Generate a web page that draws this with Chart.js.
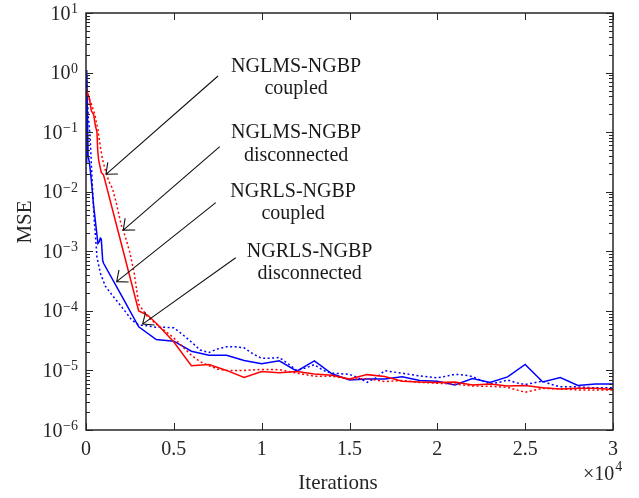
<!DOCTYPE html>
<html><head><meta charset="utf-8">
<script src="https://cdn.jsdelivr.net/npm/chart.js@4"></script>
<style>html,body{margin:0;padding:0;background:#fff}</style>
</head><body>
<canvas id="c" width="639" height="498"></canvas>
<script>
// ---- data ----
const xTickLabels = ['0','0.5','1','1.5','2','2.5','3'];
const yDecades = [-6,-5,-4,-3,-2,-1,0,1];

const nglmsCoupledX = [0,190,300,440,530,625,665,720,870,1000,2000,3000,3500,4000,5000,6000,7000,8000,9000,10000,11000,12000,13000,14000,15000,16000,17000,18000,19000,20000,21000,22000,23000,24000,25000,26000,27000,28000,29000,30000];
const nglmsCoupledY = [0.55,0.37,0.23,0.195,0.13,0.1,0.05,0.034,0.021,0.019,1.38e-3,1.0e-4,8.5e-5,6.2e-5,3.0e-5,1.2e-5,1.26e-5,1.0e-5,7.6e-6,9.6e-6,9.1e-6,9.6e-6,8.7e-6,8.3e-6,7.2e-6,8.5e-6,7.9e-6,6.6e-6,6.4e-6,6.3e-6,6.4e-6,5.7e-6,5.9e-6,5.5e-6,5.6e-6,5.1e-6,4.9e-6,5.0e-6,5.0e-6,4.8e-6];

const nglmsDiscX = [0,300,500,680,815,950,1100,1300,1500,1750,2000,2250,2500,2750,3000,3500,4000,4500,5000,5500,6000,6500,7000,7500,8000,9000,10000,11000,12000,13000,14000,15000,16000,17000,18000,19000,20000,21000,22000,23000,24000,25000,26000,27000,28000,29000,30000];
const nglmsDiscY = [0.5,0.3,0.2,0.11,0.057,0.034,0.023,0.015,0.0115,6.0e-3,2.8e-3,1.7e-3,9.5e-4,4.2e-4,1.3e-4,8e-5,6e-5,4.6e-5,3.5e-5,2.5e-5,1.8e-5,1.4e-5,1.2e-5,1.05e-5,1.0e-5,1.0e-5,1.04e-5,1.03e-5,9e-6,8e-6,8e-6,7.1e-6,7.3e-6,6.5e-6,6.8e-6,6.3e-6,6.1e-6,5.9e-6,5.5e-6,5.4e-6,5.2e-6,4.3e-6,5.0e-6,4.9e-6,4.7e-6,4.7e-6,4.7e-6];

const ngrlsCoupledX = [0,40,120,200,300,440,570,680,755,815,870,950,1000,2000,3000,4000,5000,6000,7000,8000,9000,10000,11000,12000,13000,14000,15000,16000,17000,18000,19000,20000,21000,22000,23000,24000,25000,26000,27000,28000,29000,30000];
const ngrlsCoupledY = [0.03,1.1,0.04,0.03,0.016,5.6e-3,2.6e-3,1.35e-3,1.45e-3,1.66e-3,1.6e-3,7e-4,6.3e-4,1.85e-4,5.4e-5,3.3e-5,3.1e-5,2.1e-5,1.8e-5,1.8e-5,1.47e-5,1.3e-5,1.45e-5,9.7e-6,1.45e-5,8.8e-6,6.9e-6,7.2e-6,7.2e-6,7.8e-6,6.8e-6,6.6e-6,5.7e-6,7.3e-6,6.3e-6,7.8e-6,1.26e-5,6.4e-6,7.6e-6,5.6e-6,5.9e-6,5.9e-6];

const ngrlsDiscX = [0,40,120,230,350,450,550,625,815,1100,1475,1855,2230,2610,3000,3500,4000,4500,5000,5500,6000,6500,7000,7500,8000,8500,9000,9500,10000,10500,11000,11500,12000,12500,13000,13500,14000,14500,15000,15500,16000,16500,17000,17500,18000,18500,19000,19500,20000,20500,21000,21500,22000,22500,23000,23500,24000,24500,25000,25500,26000,26500,27000,28000,29000,30000];
const ngrlsDiscY = [0.02,0.9,0.2,0.09,0.015,4e-3,1.6e-3,8e-4,4.3e-4,2.6e-4,1.86e-4,1.35e-4,9.8e-5,7e-5,5.8e-5,5.6e-5,5.3e-5,5.3e-5,5.2e-5,4e-5,3e-5,2.2e-5,2.0e-5,2.3e-5,2.5e-5,2.5e-5,2.4e-5,1.9e-5,1.6e-5,1.6e-5,1.65e-5,1.3e-5,1.0e-5,1.1e-5,1.25e-5,1.0e-5,9e-6,8.8e-6,8.6e-6,7.5e-6,6.3e-6,7.5e-6,9.9e-6,9.4e-6,9e-6,8.5e-6,8.1e-6,7.8e-6,7.5e-6,8e-6,8.6e-6,8.4e-6,7.9e-6,6.8e-6,5.9e-6,6.3e-6,6.9e-6,6.2e-6,5.8e-6,6.2e-6,6.6e-6,5.8e-6,5.3e-6,5.3e-6,5.1e-6,5.1e-6];

// annotations: label lines, label anchor (data coords), arrow tail and tip (data coords)
const annotations = [
  {lines:['NGLMS-NGBP','coupled'],      at:[11960,1.03],    tail:[7517,0.876],  tip:[1136,0.0196]},
  {lines:['NGLMS-NGBP','disconnected'], at:[11960,0.0789],  tail:[7614,0.057],  tip:[2119,2.27e-3]},
  {lines:['NGRLS-NGBP','coupled'],      at:[11790,8.24e-3], tail:[7386,6.55e-3],tip:[1744,3.09e-4]},
  {lines:['NGRLS-NGBP','disconnected'], at:[12730,8.1e-4],  tail:[8523,7.8e-4], tip:[3222,6.0e-5]}
];

function zip(xs, ys){ return xs.map((x,i)=>({x:x, y:ys[i]})); }

const SERIF = '"Liberation Serif", "DejaVu Serif", serif';
const TXT = '#262626';

const deco = {
  id:'deco',
  afterDatasetsDraw(chart){
    const {ctx, chartArea:a, scales:{x, y}} = chart;
    ctx.save();
    ctx.strokeStyle = TXT;
    ctx.lineWidth = 1;
    ctx.beginPath();
    yDecades.forEach(e=>{
      const py = Math.round(y.getPixelForValue(Math.pow(10,e)))+0.5;
      ctx.moveTo(a.left, py); ctx.lineTo(a.left+7, py);
      ctx.moveTo(a.right, py); ctx.lineTo(a.right-7, py);
      if (e < 1) {
        for (let m=2;m<=9;m++){
          const pm = Math.round(y.getPixelForValue(m*Math.pow(10,e)))+0.5;
          ctx.moveTo(a.left, pm); ctx.lineTo(a.left+4, pm);
          ctx.moveTo(a.right, pm); ctx.lineTo(a.right-4, pm);
        }
      }
    });
    for (let i=0;i<xTickLabels.length;i++){
      const px = Math.round(x.getPixelForValue(i*5000))+0.5;
      ctx.moveTo(px, a.bottom); ctx.lineTo(px, a.bottom-7);
      ctx.moveTo(px, a.top); ctx.lineTo(px, a.top+7);
    }
    ctx.stroke();
    ctx.lineWidth = 1.5;
    ctx.strokeRect(a.left, a.top, a.right-a.left, a.bottom-a.top);
    ctx.restore();
  },
  afterDraw(chart){
    const {ctx, chartArea:a, scales:{x, y}} = chart;
    ctx.save();
    ctx.fillStyle = TXT;
    yDecades.forEach(e=>{
      const py = y.getPixelForValue(Math.pow(10,e));
      const sup = e < 0 ? '\u2212' + (-e) : String(e);
      ctx.font = '14px ' + SERIF;
      const sw = ctx.measureText(sup).width;
      const right = a.left - 8;
      ctx.textAlign = 'left'; ctx.textBaseline = 'alphabetic';
      ctx.fillText(sup, right - sw, py);
      ctx.font = '20px ' + SERIF;
      ctx.textAlign = 'right';
      ctx.fillText('10', right - sw - 0.5, py + 6.5);
    });
    ctx.font = '20px ' + SERIF;
    ctx.textAlign = 'left'; ctx.textBaseline = 'alphabetic';
    const mx = a.right - 30;
    ctx.fillText('\u00d710', mx, a.bottom + 50);
    const w = ctx.measureText('\u00d710').width;
    ctx.font = '14px ' + SERIF;
    ctx.fillText('4', mx + w + 1, a.bottom + 41);
    ctx.font = '21px ' + SERIF;
    ctx.textAlign = 'center';
    ctx.fillText('Iterations', 338, a.bottom + 59);
    ctx.save();
    ctx.translate(25, 222);
    ctx.rotate(-Math.PI/2);
    ctx.textBaseline = 'middle';
    ctx.fillText('MSE', 0, 0);
    ctx.restore();
    ctx.strokeStyle = '#111';
    ctx.lineWidth = 1.1;
    annotations.forEach(an=>{
      const tx = x.getPixelForValue(an.tail[0]), ty = y.getPixelForValue(an.tail[1]);
      const hx = x.getPixelForValue(an.tip[0]),  hy = y.getPixelForValue(an.tip[1]);
      ctx.beginPath();
      ctx.moveTo(tx, ty); ctx.lineTo(hx, hy);
      const ang = Math.atan2(ty-hy, tx-hx);
      const L = 12, h = 0.7;
      ctx.moveTo(hx + L*Math.cos(ang+h), hy + L*Math.sin(ang+h));
      ctx.lineTo(hx, hy);
      ctx.lineTo(hx + L*Math.cos(ang-h), hy + L*Math.sin(ang-h));
      ctx.stroke();
      const lx = x.getPixelForValue(an.at[0]), ly = y.getPixelForValue(an.at[1]);
      ctx.font = '20px ' + SERIF;
      ctx.fillStyle = '#1a1a1a';
      ctx.textAlign = 'center'; ctx.textBaseline = 'alphabetic';
      ctx.fillText(an.lines[0], lx, ly);
      ctx.fillText(an.lines[1], lx, ly + 22.5);
    });
    ctx.restore();
  }
};

new Chart(document.getElementById('c'), {
  type:'line',
  data:{
    datasets:[
      {label:'NGLMS-NGBP coupled', data:zip(nglmsCoupledX, nglmsCoupledY), borderColor:'#ff0000', borderWidth:1.5},
      {label:'NGLMS-NGBP disconnected', data:zip(nglmsDiscX, nglmsDiscY), borderColor:'#ff0000', borderWidth:1.5, borderDash:[2,2.5]},
      {label:'NGRLS-NGBP coupled', data:zip(ngrlsCoupledX, ngrlsCoupledY), borderColor:'#0000ff', borderWidth:1.5},
      {label:'NGRLS-NGBP disconnected', data:zip(ngrlsDiscX, ngrlsDiscY), borderColor:'#0000ff', borderWidth:1.5, borderDash:[2,2.5]}
    ]
  },
  options:{
    responsive:false, animation:false, devicePixelRatio:1,
    layout:{padding:{left:0, right:26, top:13, bottom:0}},
    plugins:{legend:{display:false}, tooltip:{enabled:false}},
    elements:{point:{radius:0}, line:{tension:0, fill:false}},
    scales:{
      x:{type:'linear', min:0, max:30000,
         grid:{display:false, drawTicks:false}, border:{display:false},
         ticks:{stepSize:5000, autoSkip:false, maxRotation:0, padding:8, color:TXT,
                font:{family:SERIF, size:20},
                callback:(v)=>xTickLabels[Math.round(v/5000)]},
         afterFit:(s)=>{ s.height = 68; }},
      y:{type:'logarithmic', min:1e-6, max:10,
         grid:{display:false, drawTicks:false}, border:{display:false},
         ticks:{display:false},
         afterFit:(s)=>{ s.width = 86; }}
    }
  },
  plugins:[deco]
});
</script>
</body></html>
